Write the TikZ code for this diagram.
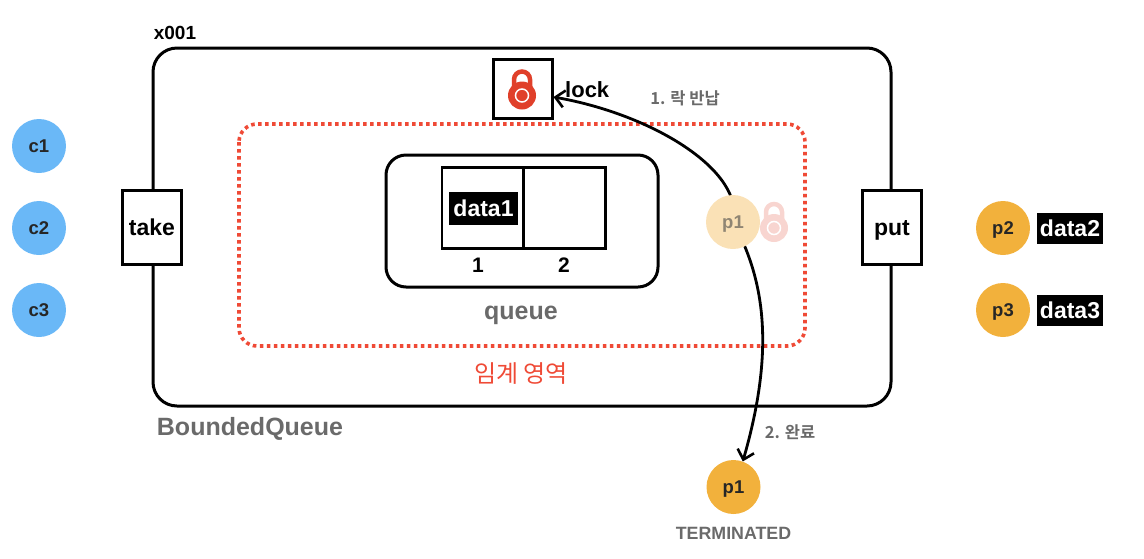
\documentclass[tikz,border=0pt]{standalone}
\usepackage{fontspec}
\setmainfont{Liberation Sans}
\newfontfamily\krfont{Noto Sans CJK KR}[BoldFont={* Bold}]
\usetikzlibrary{arrows.meta}
\definecolor{cblue}{HTML}{6AB8F7}
\definecolor{porange}{HTML}{F2B13C}
\definecolor{pfade}{HTML}{FAE1B6}
\definecolor{redline}{HTML}{EF4A36}
\definecolor{lockred}{HTML}{E0402A}
\definecolor{lockfade}{HTML}{F8D5D0}
\definecolor{graytxt}{HTML}{6A6A6A}
\tikzset{
  x=1pt,y=-1pt,
  every node/.style={font=\bfseries\fontsize{23}{26}\selectfont,inner sep=0pt},
  framebox/.style={draw=black,line width=3pt,fill=white,minimum width=59pt,minimum height=74pt,text height=16pt,text depth=0pt},
  cellbox/.style={draw=black,line width=2.6pt,minimum width=82pt,minimum height=81pt},
  chip/.style={fill=black,text=white,minimum height=33pt,font=\bfseries\fontsize{23}{26}\selectfont},
  ball/.style={circle,minimum size=54pt,text height=13pt,text depth=0pt,font=\bfseries\fontsize{18.5}{22}\selectfont},
  consumer/.style={ball,fill=cblue,text=black!85},
  producer/.style={ball,fill=porange,text=black!85},
  faded/.style={ball,fill=pfade,text=black!40!pfade!70!gray},
  note/.style={text=graytxt,font=\krfont\bfseries\fontsize{16.5}{20}\selectfont},
  curveline/.style={line width=2.8pt,black,-{Straight Barb[length=9pt,width=17pt,line width=2.6pt]}},
  pics/padlock/.style={code={
    \draw[#1,line width=4.5pt] (-8,-8) -- (-8,-16) arc[start angle=180,end angle=360,x radius=8,y radius=8] -- (8,-8);
    \fill[#1] (0,0) circle[radius=14];
    \draw[white,line width=1.5pt] (0,0) circle[radius=6.5];
  }},
}
\begin{document}
\begin{tikzpicture}
\useasboundingbox (0,0) rectangle (1144,558);
% containers
\draw[black,line width=3pt,rounded corners=24pt] (153,48) rectangle (891,406);
\draw[redline,line width=3.6pt,dash pattern=on 3.6pt off 3.4pt,rounded corners=18pt] (239,124) rectangle (805,346);
\draw[black,line width=3pt,rounded corners=20pt] (386,155) rectangle (658,287);
% boxes
\node[framebox,minimum width=59pt,minimum height=59pt] (lockbox) at (522.5,88.5) {};
\pic at (522,95.5) {padlock=lockred};
\node[anchor=west,font=\bfseries\fontsize{22}{26}\selectfont] (locklabel) at (565,90) {lock};
\node[framebox] (take) at (152,227.5) {take};
\node[framebox] (put) at (892,227.5) {put};
\node[cellbox] (cell1) at (483,208) {};
\node[cellbox] (cell2) at (564.5,208) {};
\node[chip,minimum width=69pt] (data1) at (483.5,208) {data1};
\node[font=\bfseries\fontsize{21}{24}\selectfont] (n1) at (478,265) {1};
\node[font=\bfseries\fontsize{21}{24}\selectfont] (n2) at (564,265) {2};
\node[text=graytxt,font=\bfseries\fontsize{25}{28}\selectfont] (queue) at (521,315) {queue};
\node[text=redline,font=\krfont\fontsize{24}{28}\selectfont] (crit) at (521,374) {임계 영역};
\node[font=\bfseries\fontsize{19}{22}\selectfont] (addr) at (175,33) {x001};
\node[text=graytxt,font=\bfseries\fontsize{25}{28}\selectfont] (bq) at (250,429) {BoundedQueue};
% consumers
\node[consumer] (c1) at (39,146) {c1};
\node[consumer] (c2) at (39,228) {c2};
\node[consumer] (c3) at (39,310) {c3};
% producers
\node[producer] (p2) at (1003,228) {p2};
\node[producer] (p3) at (1003,310) {p3};
\node[chip,minimum width=66pt,minimum height=31pt] (data2) at (1070,228) {data2};
\node[chip,minimum width=66pt,minimum height=31pt] (data3) at (1070,310) {data3};
% terminated
\node[producer] (p1end) at (733.5,487) {p1};
\node[text=graytxt,font=\bfseries\fontsize{17.8}{21}\selectfont] (term) at (733.5,533) {TERMINATED};
% connectors
\coordinate (pstart) at (733,222);
\draw[curveline] (pstart) .. controls (745,172) and (655,115) .. (lockbox.east |- 0,97);
\draw[curveline] (pstart) .. controls (765,280) and (775,350) .. (p1end.70);
% faded p1
\pic at (774,228) {padlock=lockfade};
\node[faded] (p1f) at (pstart) {p1};
% notes
\node[note] (n1txt) at (685,98) {1. 락 반납};
\node[note] (n2txt) at (790,432) {2. 완료};
\end{tikzpicture}
\end{document}
